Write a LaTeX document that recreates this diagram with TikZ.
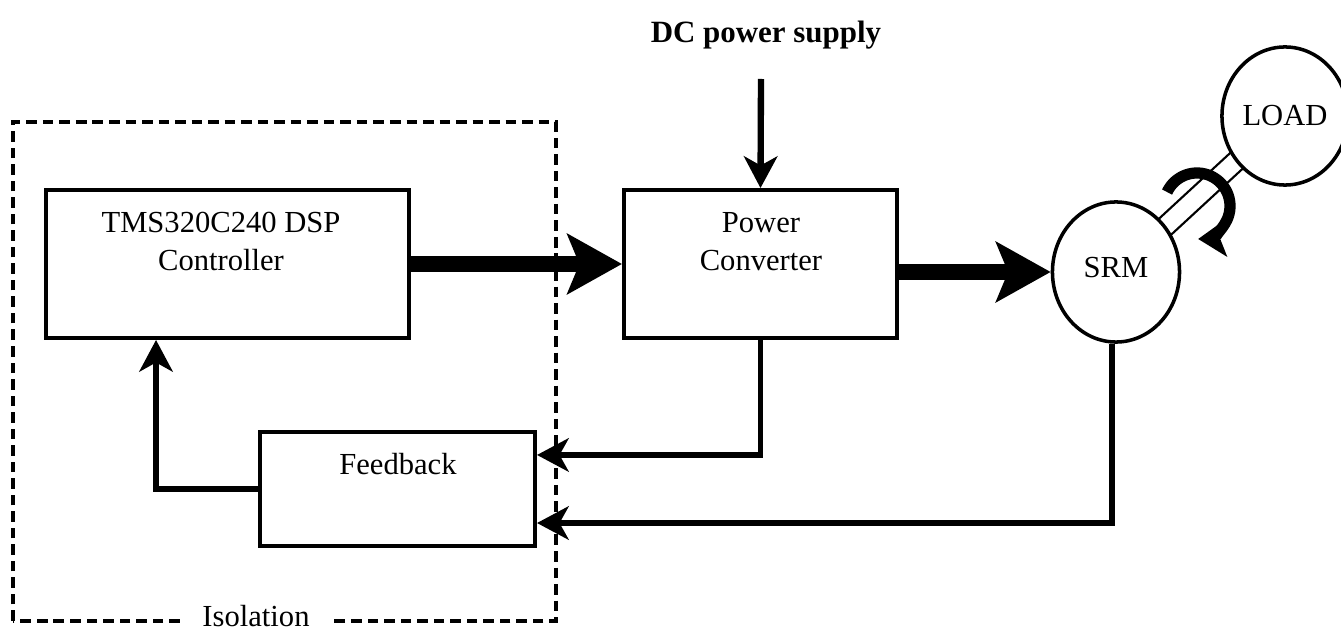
\documentclass[tikz,border=0pt]{standalone}
\usepackage{fontspec}
\setmainfont{Liberation Serif}
\usetikzlibrary{arrows.meta,shapes.geometric,calc,backgrounds}
\begin{document}
\begin{tikzpicture}[x=0.01cm,y=0.01cm,
  font=\fontsize{8.7pt}{10.8pt}\selectfont,
  box/.style={draw,line width=1.1pt,rectangle,inner sep=0pt,minimum height=1.48cm},
  motor/.style={draw,line width=1pt,ellipse,inner sep=0pt,fill=white},
  conn/.style={line width=1.5pt,-{Stealth[length=9pt,width=9.5pt,inset=2.6pt]}},
  bigarrow/.style={line width=4.8pt,-{Stealth[length=15.5pt,width=17pt,inset=3.4pt]}},
  rot/.style={line width=3.2pt,-{Stealth[length=8pt,width=10.5pt,inset=1.8pt]}},
  shaft/.style={line width=0.6pt},
  iso/.style={line width=0.9pt,dash pattern=on 3pt off 1.7pt}
]
\useasboundingbox (0,0) rectangle (1341,630);

% isolation boundary
\draw[iso] (13,9) rectangle (556,508);
\node[fill=white,inner xsep=0.22cm,inner ysep=1pt,anchor=base] (isolabel) at (256,3) {Isolation};

% blocks
\node[box,minimum width=3.63cm] (dsp) at (227.5,366) {};
\node[align=center] (dsptxt) at (221,389) {TMS320C240 DSP\\Controller};
\node[box,minimum width=2.73cm] (pc) at (760.5,366) {};
\node[align=center] (pctxt) at (761,388) {Power\\Converter};
\node[box,minimum width=2.75cm,minimum height=1.14cm] (fb) at (397.5,141) {};
\node (fbtxt) at (398,165.5) {Feedback};

% machines
\node[motor,minimum width=1.27cm,minimum height=1.40cm,text depth=2.5pt] (srm) at (1116,358) {SRM};
\node[motor,minimum width=1.26cm,minimum height=1.38cm] (load) at (1285,514) {LOAD};

% shaft
\begin{scope}[on background layer]
  \draw[shaft] ($(srm.center)!0.1cm!90:(load.center)$) -- ($(load.center)!0.1cm!-90:(srm.center)$);
  \draw[shaft] ($(srm.center)!0.1cm!-90:(load.center)$) -- ($(load.center)!0.1cm!90:(srm.center)$);
\end{scope}

% rotation arrow
\coordinate (rotc) at (1197,424);
\draw[rot] ($(rotc)+(155:0.33cm)$) arc[start angle=155,end angle=-88,radius=0.33cm];

% DC supply
\node[font=\fontsize{8.8pt}{10.8pt}\selectfont\bfseries,anchor=base] (dc) at (766,587) {DC power supply};
\coordinate (dctop) at (761,551);
\draw[conn,line width=1.8pt] (dctop) -- (pc.north);

% power flow
\draw[bigarrow] (dsp.east) -- (pc.west);
\draw[bigarrow] (pc.east |- srm.west) -- (srm.west);

% feedback paths
\draw[conn] (pc.south) |- ([yshift=0.34cm]fb.east);
\draw[conn] ([xshift=-0.04cm]srm.south) |- ([yshift=-0.34cm]fb.east);
\draw[conn] (fb.west) -| ([xshift=1.12cm]dsp.south west);
\end{tikzpicture}
\end{document}
